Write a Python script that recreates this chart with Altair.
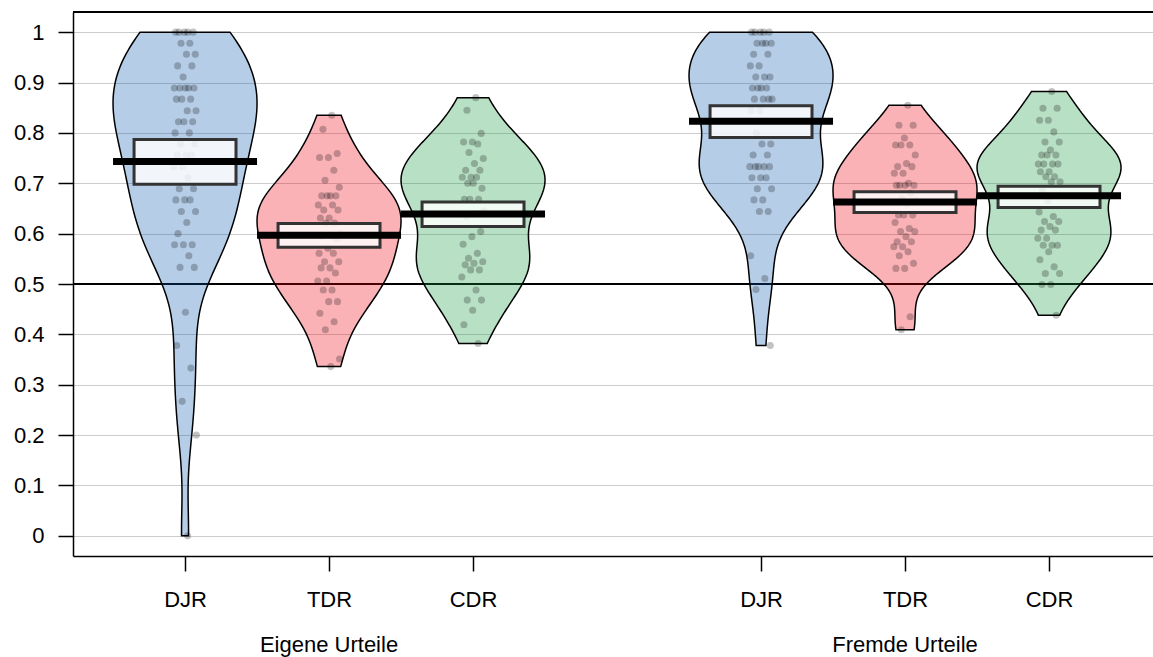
import altair as alt
import pandas as pd
import numpy as np

# ---------------- data ----------------
categories = ["DJR", "TDR", "CDR", "DJR", "TDR", "CDR"]
positions = [1, 2, 3, 5, 6, 7]
group_labels = ["Eigene Urteile", "Fremde Urteile"]
group_positions = [2, 6]
colors = ["#0C5BB0", "#EE0011", "#15983D", "#0C5BB0", "#EE0011", "#15983D"]

djr_eigene = [1.0, 1.0, 1.0, 1.0, 1.0, 0.978, 0.978, 0.956, 0.956, 0.933, 0.933, 0.911,
              0.889, 0.889, 0.889, 0.889, 0.889, 0.867, 0.867, 0.867, 0.844, 0.844,
              0.822, 0.822, 0.822, 0.8, 0.8, 0.778, 0.778, 0.756, 0.756, 0.756,
              0.733, 0.733, 0.711, 0.689, 0.689, 0.667, 0.667, 0.667, 0.644, 0.644,
              0.622, 0.6, 0.578, 0.578, 0.578, 0.556, 0.533, 0.533,
              0.444, 0.378, 0.333, 0.267, 0.2, 0.0]
tdr_eigene = [0.835, 0.807, 0.759, 0.751, 0.751, 0.726, 0.706, 0.692, 0.675, 0.675,
              0.675, 0.675, 0.657, 0.657, 0.647, 0.647, 0.631, 0.631, 0.621, 0.621,
              0.60, 0.597, 0.595, 0.59, 0.571, 0.561, 0.561, 0.544, 0.544, 0.532,
              0.532, 0.522, 0.506, 0.506, 0.488, 0.488, 0.465, 0.465, 0.442, 0.425,
              0.409, 0.351, 0.336]
cdr_eigene = [0.870, 0.845, 0.799, 0.782, 0.782, 0.778, 0.761, 0.749, 0.739, 0.726,
              0.726, 0.712, 0.712, 0.712, 0.70, 0.69, 0.70, 0.668, 0.668, 0.668,
              0.645, 0.64, 0.635, 0.604, 0.594, 0.579, 0.561, 0.551, 0.544, 0.541,
              0.538, 0.528, 0.528, 0.514, 0.488, 0.468, 0.468, 0.448, 0.419, 0.382]
djr_fremde = [1.0, 1.0, 1.0, 1.0, 1.0, 0.978, 0.978, 0.978, 0.978, 0.956, 0.956,
              0.933, 0.933, 0.911, 0.911, 0.911, 0.889, 0.889, 0.889, 0.889,
              0.867, 0.867, 0.867, 0.867, 0.844, 0.844, 0.822, 0.8, 0.778, 0.778,
              0.756, 0.756, 0.733, 0.733, 0.733, 0.733, 0.733, 0.711, 0.711, 0.711,
              0.689, 0.689, 0.667, 0.667, 0.644, 0.644, 0.556, 0.511, 0.489, 0.378]
tdr_fremde = [0.855, 0.815, 0.815, 0.79, 0.776, 0.776, 0.776, 0.756, 0.739, 0.733,
              0.733, 0.72, 0.72, 0.70, 0.696, 0.696, 0.696, 0.696, 0.68, 0.67, 0.665,
              0.66, 0.637, 0.637, 0.637, 0.622, 0.61, 0.604, 0.604, 0.594, 0.584,
              0.584, 0.574, 0.574, 0.564, 0.556, 0.541, 0.531, 0.531, 0.435, 0.409]
cdr_fremde = [0.882, 0.849, 0.849, 0.825, 0.825, 0.802, 0.782, 0.782, 0.766, 0.756,
              0.756, 0.756, 0.738, 0.738, 0.738, 0.738, 0.723, 0.723, 0.713, 0.713,
              0.703, 0.703, 0.685, 0.675, 0.665, 0.643, 0.634, 0.624, 0.624, 0.614,
              0.607, 0.607, 0.591, 0.591, 0.577, 0.577, 0.577, 0.564, 0.548, 0.534,
              0.521, 0.521, 0.499, 0.499, 0.438]
series = [djr_eigene, tdr_eigene, cdr_eigene, djr_fremde, tdr_fremde, cdr_fremde]

means = [0.743, 0.597, 0.639, 0.823, 0.663, 0.675]
hdi_lo = [0.698, 0.573, 0.614, 0.791, 0.642, 0.652]
hdi_hi = [0.787, 0.620, 0.663, 0.854, 0.683, 0.694]

# ---------------- frames ----------------
rows = []
for i, vals in enumerate(series):
    for v in vals:
        rows.append({"grp": i, "pos": positions[i], "v": v})
points_df = pd.DataFrame(rows)
stats_df = pd.DataFrame({"pos": positions, "mean": means, "lo": hdi_lo, "hi": hdi_hi})
labels_df = pd.DataFrame({"pos": group_positions, "label": group_labels})


def nrd0(x):
    x = np.asarray(x, dtype=float)
    sd = x.std(ddof=1)
    q75, q25 = np.percentile(x, [75, 25])
    iqr = (q75 - q25) / 1.34
    lo = min(sd, iqr) if iqr > 0 else sd
    return 0.9 * lo * len(x) ** (-0.2)


FONT_SIZE = 22
xscale = alt.Scale(domain=[0.222, 7.722], nice=False, zero=False)
yscale = alt.Scale(domain=[-0.04, 1.04], nice=False, zero=False)

label_map = "{" + ",".join(f"'{p}':'{c}'" for p, c in zip(positions, categories)) + "}"
xaxis = alt.Axis(values=positions, labelExpr=f"{label_map}[datum.value]", grid=False,
                 tickSize=15, tickColor="black", tickWidth=1.5, domainColor="black",
                 domainWidth=1.5, labelPadding=18, labelFontSize=FONT_SIZE,
                 labelColor="black", title=None)
yvals = [0, 0.1, 0.2, 0.3, 0.4, 0.5, 0.6, 0.7, 0.8, 0.9, 1]
yaxis = alt.Axis(values=yvals, format="~g", grid=True, gridColor="#cccccc", gridWidth=1,
                 tickSize=15, tickColor="black", tickWidth=1.5, domainColor="black",
                 domainWidth=1.5, labelPadding=14, labelFontSize=FONT_SIZE,
                 labelColor="black", title=None)

base = alt.Chart(points_df)

# reference line at 0.5
line05 = alt.Chart(stats_df).mark_rule(color="black", strokeWidth=1.5).encode(
    y=alt.datum(0.5)
)

violins = []
for i, vals in enumerate(series):
    bw = nrd0(vals)
    p = positions[i]
    layer = (
        base.transform_filter(alt.datum.grp == i)
        .transform_density("v", as_=["v", "dens"], bandwidth=bw,
                           extent=[min(vals), max(vals)], steps=200)
        .transform_joinaggregate(maxd="max(dens)")
        .transform_calculate(
            left=f"{p} - 0.5 * datum.dens / datum.maxd",
            right=f"{p} + 0.5 * datum.dens / datum.maxd",
        )
        .mark_area(orient="horizontal", fill=colors[i], fillOpacity=0.3,
                   stroke="black", strokeWidth=1.5)
        .encode(
            y=alt.Y("v:Q", scale=yscale, axis=yaxis),
            x=alt.X("left:Q", scale=xscale, axis=xaxis, stack=False),
            x2="right:Q",
        )
    )
    violins.append(layer)

points = (
    base.transform_window(idx="row_number()", groupby=["grp"])
    .transform_calculate(xj="datum.pos + ((datum.idx * 0.618034) % 1 - 0.5) * 0.16")
    .mark_circle(color="black", opacity=0.24, size=50)
    .encode(
        x=alt.X("xj:Q", scale=xscale, axis=xaxis),
        y=alt.Y("v:Q", scale=yscale, axis=yaxis),
    )
)

boxes = (
    alt.Chart(stats_df)
    .transform_calculate(bl="datum.pos - 0.354", br="datum.pos + 0.354")
    .mark_rect(fill="white", fillOpacity=0.82, stroke="#333333", strokeWidth=3)
    .encode(
        x=alt.X("bl:Q", scale=xscale, axis=xaxis),
        x2="br:Q",
        y=alt.Y("lo:Q", scale=yscale, axis=yaxis),
        y2="hi:Q",
    )
)

mean_bars = (
    alt.Chart(stats_df)
    .transform_calculate(ml="datum.pos - 0.5", mr="datum.pos + 0.5")
    .mark_rule(color="black", strokeWidth=7)
    .encode(
        x=alt.X("ml:Q", scale=xscale, axis=xaxis),
        x2="mr:Q",
        y=alt.Y("mean:Q", scale=yscale, axis=yaxis),
    )
)

top_border = alt.Chart(stats_df).mark_rule(color="black", strokeWidth=1.5).encode(
    y=alt.datum(1.04)
)

group_text = alt.Chart(labels_df).mark_text(
    fontSize=FONT_SIZE, baseline="alphabetic", align="center", color="black"
).encode(
    x=alt.X("pos:Q", scale=xscale, axis=xaxis),
    text="label:N",
    y=alt.value(640),
)

chart = (
    alt.layer(line05, *violins, points, boxes, mean_bars, top_border, group_text)
    .properties(
        width=1080,
        height=544,
        padding={"left": 73, "top": 12, "right": 0, "bottom": 101},
        autosize=alt.AutoSizeParams(type="none"),
    )
    .configure(font="Liberation Sans")
    .configure_view(strokeWidth=0)
)

chart.save("out.html", embed_options={"renderer": "svg", "actions": False})
